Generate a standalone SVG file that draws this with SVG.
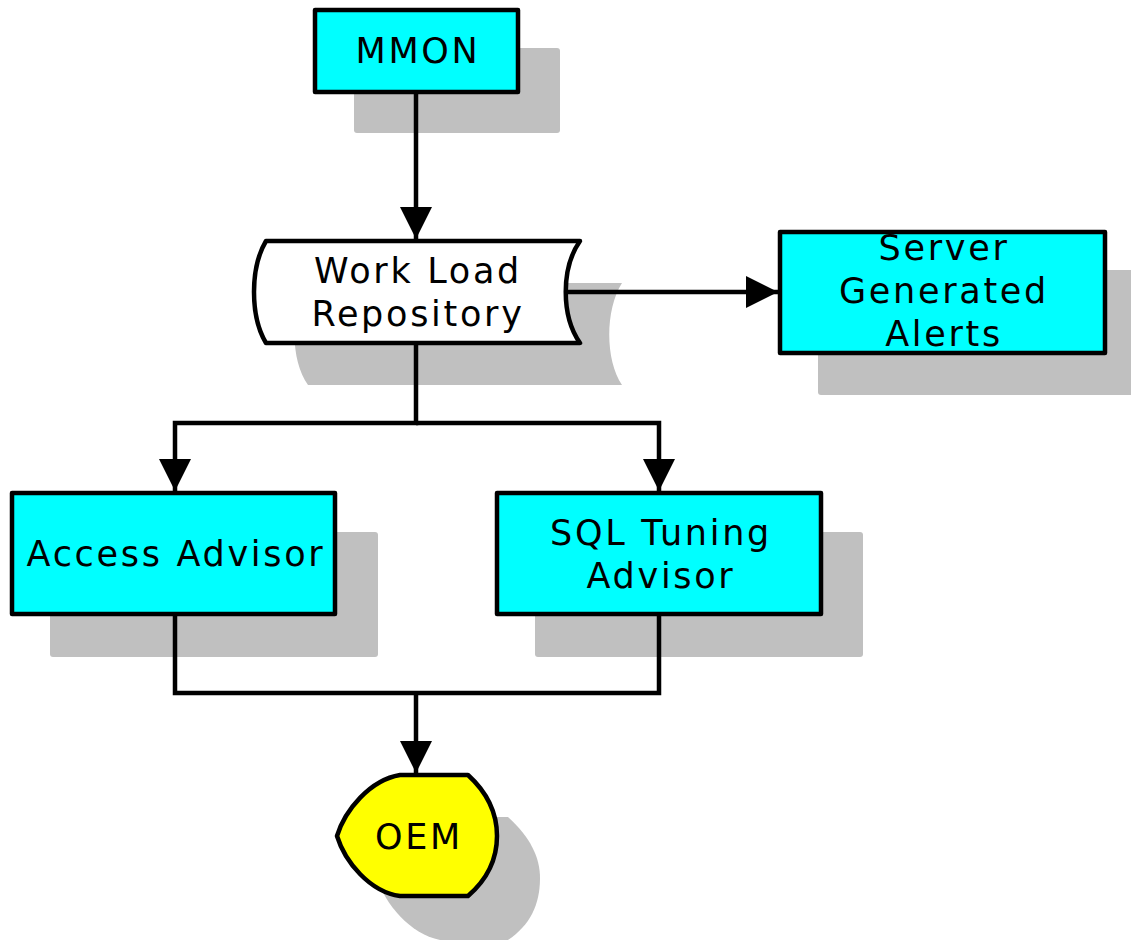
<svg xmlns="http://www.w3.org/2000/svg" width="1131" height="940" viewBox="0 0 1131 940">
<style>
.shadow{fill:#c0c0c0;}
.box{fill:#00ffff;stroke:#000;stroke-width:4.5;stroke-linejoin:round;}
.wlr{fill:#fff;stroke:#000;stroke-width:4.5;stroke-linejoin:round;}
.oem{fill:#ffff00;stroke:#000;stroke-width:4.5;stroke-linejoin:round;}
.lbl{font-family:"DejaVu Sans",Verdana,sans-serif;font-size:35px;fill:#000;text-anchor:middle;letter-spacing:2.7px;}
.line{fill:none;stroke:#000;stroke-width:4.5;}
</style>
<defs>
<marker id="arr" viewBox="0 0 10 10" refX="10" refY="5" markerWidth="7.2" markerHeight="7.2" markerUnits="strokeWidth" orient="auto">
<path d="M0,0 L10,5 L0,10 Z" fill="#000"/>
</marker>
</defs>
<g id="shadows">
<rect class="shadow" x="354" y="48" width="206" height="85" rx="3"/>
<path class="shadow" d="M308,283 L622,283 C605,310 605,360 622,385 L308,385 C290,360 290,310 308,283 Z"/>
<rect class="shadow" x="818" y="270" width="320" height="125" rx="3"/>
<rect class="shadow" x="50" y="532" width="328" height="125" rx="3"/>
<rect class="shadow" x="535" y="532" width="328" height="125" rx="3"/>
<path class="shadow" d="M440,817 L508,817 C530,837 540,857 540,878 C540,905 530,925 508,940 L440,940 C410,934 385,904 377,878 C385,852 410,822 440,817 Z"/>
</g>
<g id="connectors">
<line class="line" x1="416" y1="92" x2="416" y2="239" marker-end="url(#arr)"/>
<line class="line" x1="566" y1="292" x2="778" y2="292" marker-end="url(#arr)"/>
<polyline class="line" points="416,343 416,423 175,423 175,491" marker-end="url(#arr)"/>
<polyline class="line" points="416,423 659,423 659,491" marker-end="url(#arr)"/>
<polyline class="line" points="175,614 175,693 659,693 659,614"/>
<line class="line" x1="416" y1="693" x2="416" y2="773" marker-end="url(#arr)"/>
</g>
<g id="mmon">
<rect class="box" x="315" y="10" width="203" height="82"/>
<text class="lbl" x="418" y="63">MMON</text>
</g>
<g id="wlr">
<path class="wlr" d="M266,241 L580,241 C561,268 561,316 580,343 L266,343 C250,316 250,268 266,241 Z"/>
<text class="lbl" x="418" y="283">Work Load</text>
<text class="lbl" x="418" y="326">Repository</text>
</g>
<g id="alerts">
<rect class="box" x="780" y="232" width="325" height="121"/>
<text class="lbl" x="944" y="260">Server</text>
<text class="lbl" x="944" y="303">Generated</text>
<text class="lbl" x="944" y="346">Alerts</text>
</g>
<g id="access">
<rect class="box" x="12" y="493" width="323" height="121"/>
<text class="lbl" x="176" y="566">Access Advisor</text>
</g>
<g id="sqltuning">
<rect class="box" x="497" y="493" width="324" height="121"/>
<text class="lbl" x="661" y="545">SQL Tuning</text>
<text class="lbl" x="661" y="588">Advisor</text>
</g>
<g id="oem">
<path class="oem" d="M400,775 L468,775 C490,795 497,815 497,836 C497,857 490,877 468,896 L400,896 C370,892 345,862 337,836 C345,810 370,780 400,775 Z"/>
<text class="lbl" x="419" y="849">OEM</text>
</g>
</svg>
